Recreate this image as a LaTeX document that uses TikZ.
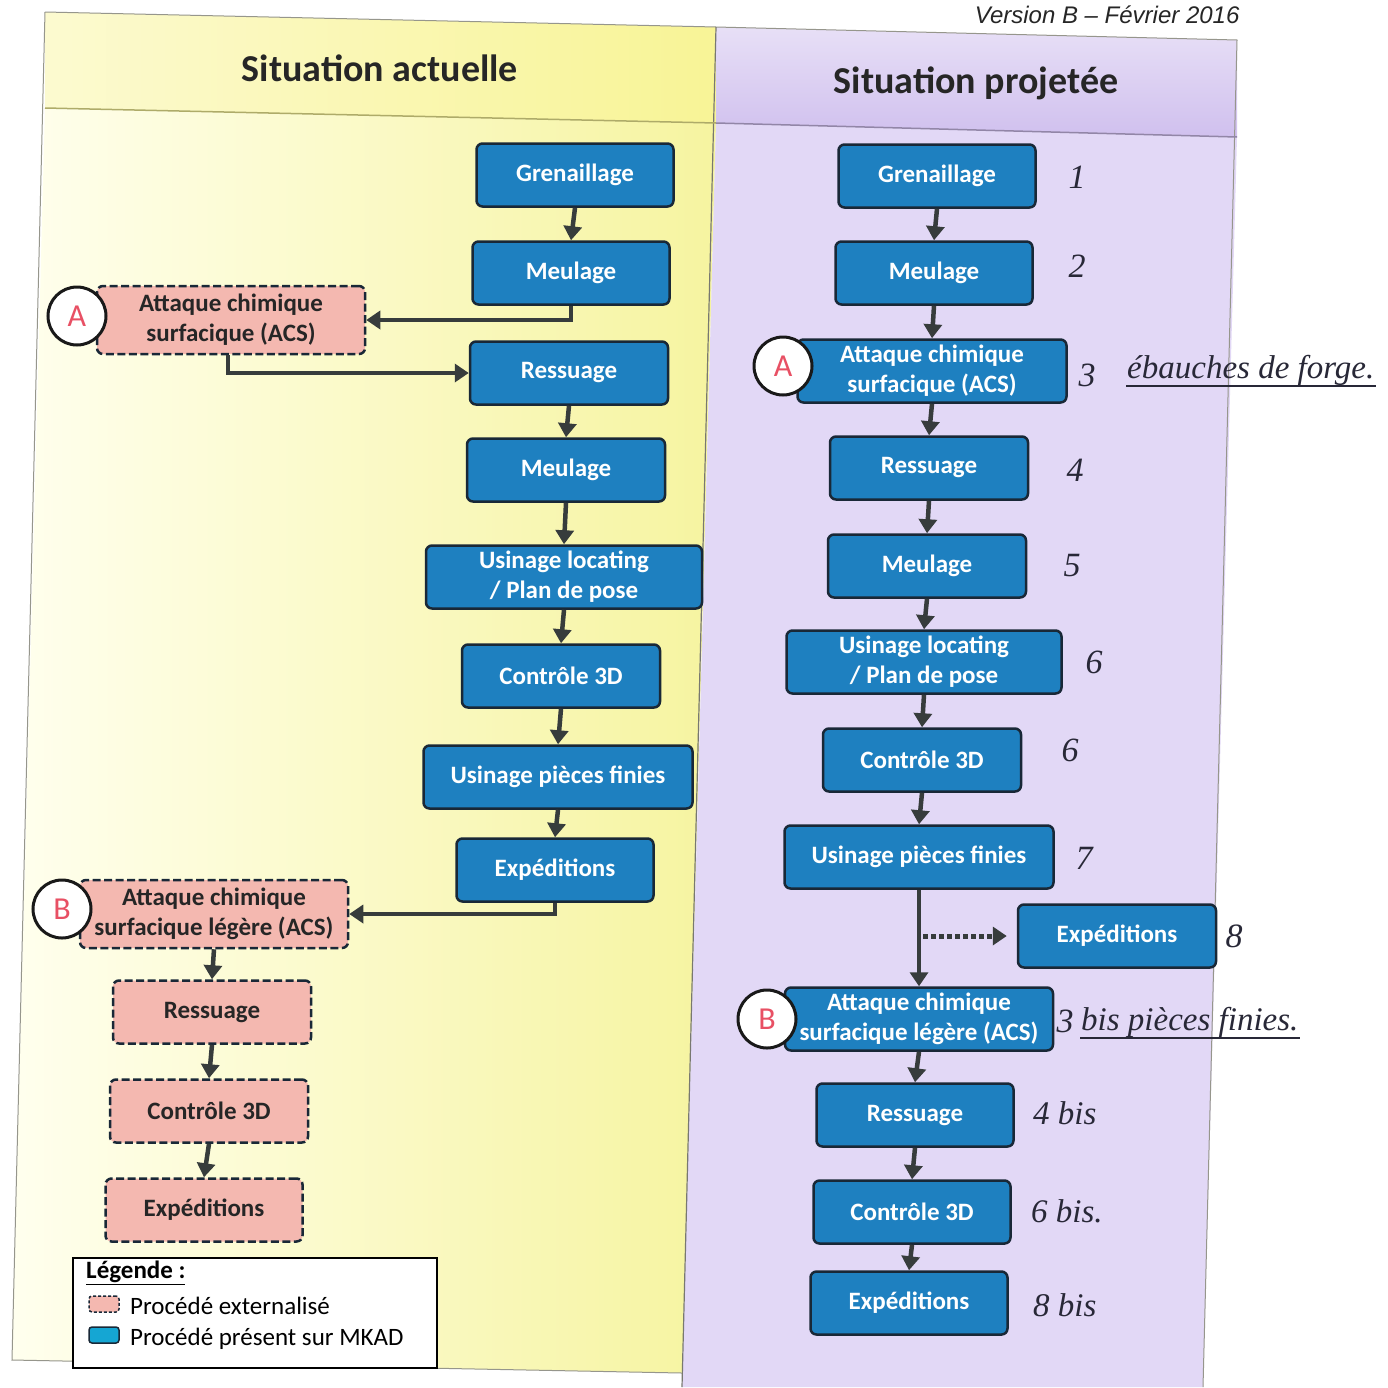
\documentclass[tikz,border=0pt]{standalone}
\usepackage{fontspec}
\setmainfont{Carlito}
\newfontfamily\verfont{Liberation Sans}
\newfontfamily\handfont{Liberation Serif}
\usetikzlibrary{arrows.meta,calc}
\definecolor{boxblue}{RGB}{30,128,192}
\definecolor{boxedge}{RGB}{25,40,55}
\definecolor{pinkfill}{RGB}{244,184,176}
\definecolor{ylight}{RGB}{255,255,238}
\definecolor{ydark}{RGB}{246,244,160}
\definecolor{yhead}{RGB}{248,244,150}
\definecolor{plight}{RGB}{226,216,246}
\definecolor{phead}{RGB}{208,192,238}
\definecolor{arrowgrey}{RGB}{55,60,60}
\definecolor{ink}{RGB}{40,40,55}
\definecolor{letterred}{RGB}{232,80,100}
\definecolor{edgegrey}{RGB}{150,150,140}
\begin{document}
\begin{tikzpicture}[x=1pt,y=-1pt,
  boxtext/.style={font=\fontsize{25}{30}\selectfont\bfseries, align=center, inner sep=0pt, minimum height=63pt},
  bluebox/.style={boxtext, draw=boxedge, line width=2.5pt, fill=boxblue, rounded corners=6pt, text=white},
  pinkbox/.style={boxtext, draw=boxedge, line width=2.5pt, dash pattern=on 8pt off 3.5pt, fill=pinkfill, rounded corners=6pt, text=black!85},
  arr/.style={draw=arrowgrey, line width=4.5pt, -{Triangle[length=14pt,width=18pt]}},
  dotarr/.style={draw=arrowgrey, line width=5pt, dash pattern=on 5pt off 3pt, -{Triangle[length=14pt,width=18pt]}},
  badge/.style={circle, draw=black!90, line width=3pt, fill=white, minimum size=58pt, text=letterred, font=\fontsize{32}{32}\selectfont, inner sep=0pt},
  header/.style={font=\fontsize{38}{38}\selectfont\bfseries, text=black!85},
  hand/.style={text=ink, font=\handfont\itshape\fontsize{34}{34}\selectfont, inner sep=1pt},
  handw/.style={text=ink, font=\handfont\itshape\fontsize{33}{33}\selectfont, inner sep=1pt},
  inkline/.style={draw=ink, line width=1.3pt},
  legtext/.style={font=\fontsize{25}{28}\selectfont, text=black, anchor=west, inner sep=0pt},
]
\useasboundingbox (0,0) rectangle (1388,1387);
\fill[white] (0,0) rectangle (1388,1387);

% ---------- panels ----------
\shade[left color=yhead!45, right color=yhead] (45,12) -- (716,27) -- (716,123) -- (45,108) -- cycle;
\shade[left color=ylight, right color=ydark] (45,108) -- (716,123) -- (682,1373) -- (12,1360) -- cycle;
\shade[top color=phead!50, bottom color=phead] (716,27) -- (1237,40) -- (1237,137) -- (716,123) -- cycle;
\fill[plight] (716,123) -- (1237,137) -- (1203,1387) -- (682,1387) -- cycle;
\draw[edgegrey, line width=1pt] (45,12) -- (716,27) -- (1237,40) -- (1203,1387);
\draw[edgegrey, line width=1pt] (45,12) -- (12,1360) -- (682,1373);
\draw[edgegrey!80!black, line width=1.2pt] (716,27) -- (682,1387);
\draw[yhead!70!black, line width=1.5pt] (45,108) -- (716,123);
\draw[phead!70!black, line width=1.5pt] (716,123) -- (1237,137);

\node[anchor=east, font=\verfont\itshape\fontsize{24}{24}\selectfont, text=black!85] (ver) at (1243,15) {Version B – Février 2016};
\node[header] (h1) at (380,68) {Situation actuelle};
\node[header] (h2) at (976,83) {Situation projetée};

% ---------- left column ----------
\node[bluebox, minimum width=197pt] (g1) at (575,175) {Grenaillage};
\node[bluebox, minimum width=197pt] (m1) at (571,273) {Meulage};
\node[pinkbox, minimum width=268pt, minimum height=68pt] (a1) at (231,320) {Attaque chimique\\surfacique (ACS)};
\node[badge] (ba1) at (77,316) {A};
\node[bluebox, minimum width=198pt] (r1) at (569,373) {Ressuage};
\node[bluebox, minimum width=198pt] (m2) at (566,470) {Meulage};
\node[bluebox, minimum width=276pt] (u1) at (564,577) {Usinage locating\\/ Plan de pose};
\node[bluebox, minimum width=198pt] (c1) at (561,676) {Contrôle 3D};
\node[bluebox, minimum width=269pt] (p1) at (558,777) {Usinage pièces finies};
\node[bluebox, minimum width=197pt] (e1) at (555,870) {Expéditions};
\node[pinkbox, minimum width=268pt, minimum height=68pt] (b1) at (214,914) {Attaque chimique\\surfacique légère (ACS)};
\node[badge] (bb1) at (62,909) {B};
\node[pinkbox, minimum width=198pt] (r2) at (212,1012) {Ressuage};
\node[pinkbox, minimum width=198pt] (c2) at (209,1111) {Contrôle 3D};
\node[pinkbox, minimum width=197pt] (e2) at (204,1210) {Expéditions};

\draw[arr] (g1.south) -- (m1.north);
\draw[arr] (m1.south) |- (a1.east);
\draw[arr] ([xshift=-3pt]a1.south) |- (r1.west);
\draw[arr] (r1.south) -- (m2.north);
\draw[arr] (m2.south) -- (u1.north);
\draw[arr] (u1.south) -- (c1.north);
\draw[arr] (c1.south) -- (p1.north);
\draw[arr] (p1.south) -- (e1.north);
\draw[arr] (e1.south) |- (b1.east);
\draw[arr] (b1.south) -- (r2.north);
\draw[arr] (r2.south) -- (c2.north);
\draw[arr] (c2.south) -- (e2.north);

% ---------- legend ----------
\node[draw=black, line width=1.5pt, fill=white, minimum width=364pt, minimum height=110pt, inner sep=0pt] (leg) at (255,1313) {};
\node[legtext, font=\fontsize{25}{28}\selectfont\bfseries] (legt) at (86,1273) {\underline{Légende :}};
\node[pinkbox, minimum width=30pt, minimum height=16pt, line width=1.5pt, rounded corners=3pt, dash pattern=on 3pt off 2pt] (li1) at (104,1304) {};
\node[legtext] (lt1) at (130,1306) {Procédé externalisé};
\node[bluebox, minimum width=30pt, minimum height=16pt, line width=1.5pt, rounded corners=3pt, fill=boxblue!70!cyan] (li2) at (104,1335) {};
\node[legtext] (lt2) at (130,1339) {Procédé présent sur MKAD};

% ---------- right column ----------
\node[bluebox, minimum width=197pt] (g3) at (937,176) {Grenaillage};
\node[bluebox, minimum width=197pt] (m3) at (934,273) {Meulage};
\node[bluebox, minimum width=269pt] (a3) at (932,371) {Attaque chimique\\surfacique (ACS)};
\node[badge] (ba3) at (783,366) {A};
\node[bluebox, minimum width=198pt] (r3) at (929,468) {Ressuage};
\node[bluebox, minimum width=198pt] (m4) at (927,566) {Meulage};
\node[bluebox, minimum width=275pt] (u3) at (924,662) {Usinage locating\\/ Plan de pose};
\node[bluebox, minimum width=198pt] (c3) at (922,760) {Contrôle 3D};
\node[bluebox, minimum width=269pt] (p3) at (919,857) {Usinage pièces finies};
\node[bluebox, minimum width=198pt] (x3) at (1117,936) {Expéditions};
\node[bluebox, minimum width=268pt] (b3) at (919,1019) {Attaque chimique\\surfacique légère (ACS)};
\node[badge] (bb3) at (767,1019) {B};
\node[bluebox, minimum width=197pt] (r4) at (915,1115) {Ressuage};
\node[bluebox, minimum width=197pt] (c4) at (912,1212) {Contrôle 3D};
\node[bluebox, minimum width=197pt] (e4) at (909,1303) {Expéditions};

\draw[arr] (g3.south) -- (m3.north);
\draw[arr] (m3.south) -- (a3.north);
\draw[arr] (a3.south) -- (r3.north);
\draw[arr] (r3.south) -- (m4.north);
\draw[arr] (m4.south) -- (u3.north);
\draw[arr] (u3.south) -- (c3.north);
\draw[arr] (c3.south) -- (p3.north);
\draw[arr] (p3.south) -- (b3.north);
\draw[arr] (b3.south) -- (r4.north);
\draw[arr] (r4.south) -- (c4.north);
\draw[arr] (c4.south) -- (e4.north);
\coordinate (dstart) at ($(p3.south |- x3.west)+(4,0)$);
\draw[dotarr, shorten >=10pt] (dstart) -- (x3.west);

% ---------- handwritten notes ----------
\node[hand] (n1) at (1077,177) {1};
\node[hand] (n2) at (1077,266) {2};
\node[hand] (n3) at (1087,375) {3};
\node[handw, anchor=base west] (t3) at (1126,378) {ébauches de forge.};
\draw[inkline] ($(t3.base west)+(0,8)$) -- ($(t3.base east)+(0,8)$);
\node[hand] (n4) at (1075,470) {4};
\node[hand] (n5) at (1072,566) {5};
\node[hand] (n6) at (1094,662) {6};
\node[hand] (n6b) at (1070,750) {6};
\node[hand] (n7) at (1084,858) {7};
\node[hand] (n8) at (1234,936) {8};
\node[hand] (n3b) at (1065,1021) {3};
\node[handw, anchor=base west] (t3b) at (1080,1030) {bis pièces finies.};
\draw[inkline] ($(t3b.base west)+(0,8)$) -- ($(t3b.base east)+(0,8)$);
\node[handw, anchor=west] (n4b) at (1032,1113) {4 bis};
\node[handw, anchor=west] (n6c) at (1030,1211) {6 bis.};
\node[handw, anchor=west] (n8b) at (1032,1305) {8 bis};
\end{tikzpicture}
\end{document}
